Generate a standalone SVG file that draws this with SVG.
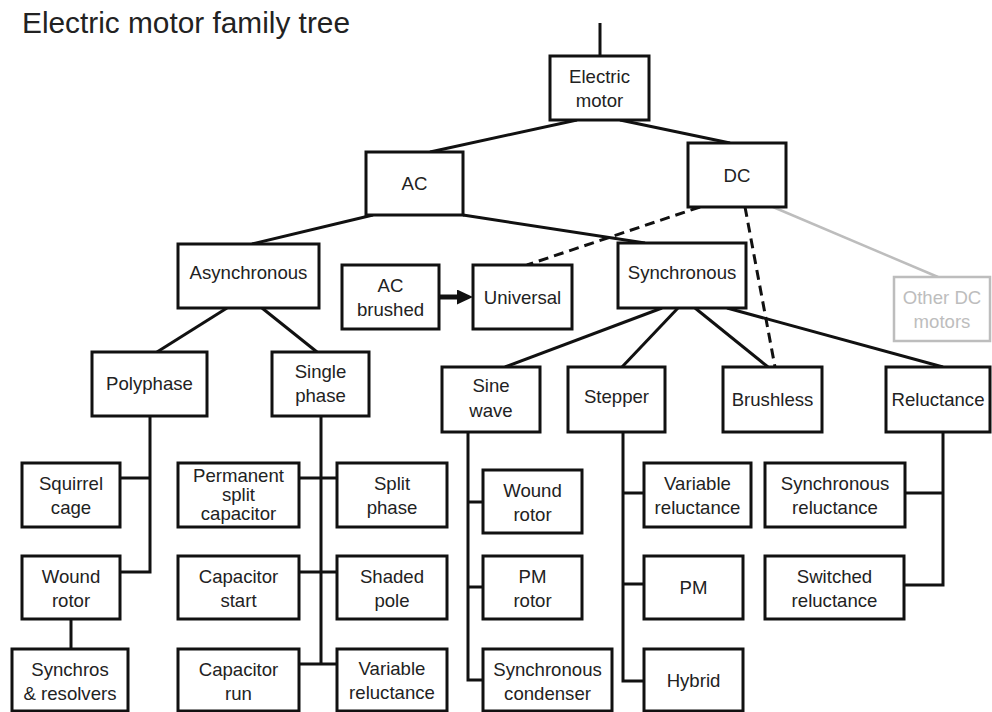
<svg xmlns="http://www.w3.org/2000/svg" width="992" height="712" viewBox="0 0 992 712">
<defs>
<style>
.box{fill:#fff;stroke:#111;stroke-width:3}
.gbox{fill:#fff;stroke:#bdbdbd;stroke-width:2.5}
text{font-family:"Liberation Sans",Arial,Helvetica,sans-serif;font-size:18.6px;fill:#222;text-anchor:middle}
.gtext{fill:#bdbdbd}
.title{font-size:29px;text-anchor:start;fill:#222}
.ln{fill:none;stroke:#111;stroke-width:3;stroke-linejoin:miter;stroke-linecap:butt}
.dash{fill:none;stroke:#111;stroke-width:3;stroke-dasharray:10 6}
.gray{fill:none;stroke:#bdbdbd;stroke-width:2.5}
.arrow{fill:none;stroke:#111;stroke-width:5}
</style>
<marker id="ah" markerUnits="userSpaceOnUse" markerWidth="16" markerHeight="15" refX="3" refY="7.5" orient="auto">
<path d="M0,0 L16,7.5 L0,15 z" fill="#111"/>
</marker>
</defs>
<rect width="992" height="712" fill="#fff"/>
<text class="title" x="22" y="33" textLength="328" lengthAdjust="spacingAndGlyphs">Electric motor family tree</text>

<g id="connectors">
<path class="ln" d="M600,23 V56"/>
<path class="ln" d="M577,120 L430,152"/>
<path class="ln" d="M620,120 L730,143"/>
<path class="ln" d="M373,215 L252,244"/>
<path class="ln" d="M463,215 L645,243"/>
<path class="dash" d="M700,207 L527,265"/>
<path class="dash" d="M745,207 L775,367"/>
<path class="gray" d="M773,207 L938,277"/>
<path class="arrow" d="M439,297 H460" marker-end="url(#ah)"/>
<path class="ln" d="M227,308 L157,352"/>
<path class="ln" d="M262,308 L317,352"/>
<path class="ln" d="M662,308 L505,367"/>
<path class="ln" d="M678,308 L622,367"/>
<path class="ln" d="M695,308 L768,367"/>
<path class="ln" d="M727,308 L943,367"/>
<path class="ln" d="M150,416 V572 H120 M120,478 H150"/>
<path class="ln" d="M71,619 V649"/>
<path class="ln" d="M321,416 V664 M299,478 H337 M299,572 H337 M299,664 H337"/>
<path class="ln" d="M468,432 V680 H483 M468,502 H483 M468,587 H483"/>
<path class="ln" d="M623,432 V681 H644 M623,493 H644 M623,584 H644"/>
<path class="ln" d="M943,432 V585 H904 M905,493 H943"/>
</g>

<g id="electric-motor"><rect class="box" x="550" y="56" width="99" height="64"/><text x="599.5" y="83">Electric</text><text x="599.5" y="107">motor</text></g>
<g id="ac"><rect class="box" x="366" y="152" width="97" height="63"/><text x="414.5" y="190">AC</text></g>
<g id="dc"><rect class="box" x="688" y="143" width="98" height="64"/><text x="737" y="182">DC</text></g>
<g id="asynchronous"><rect class="box" x="178" y="244" width="141" height="64"/><text x="248.5" y="279">Asynchronous</text></g>
<g id="ac-brushed"><rect class="box" x="342" y="265" width="97" height="64"/><text x="390.5" y="292">AC</text><text x="390.5" y="316">brushed</text></g>
<g id="universal"><rect class="box" x="473" y="265" width="99" height="64"/><text x="522.5" y="304">Universal</text></g>
<g id="synchronous"><rect class="box" x="618" y="243" width="128" height="65"/><text x="682" y="279">Synchronous</text></g>
<g id="other-dc"><rect class="gbox" x="894" y="277" width="96" height="64"/><text class="gtext" x="942" y="304">Other DC</text><text class="gtext" x="942" y="328">motors</text></g>
<g id="polyphase"><rect class="box" x="92" y="352" width="115" height="64"/><text x="149.5" y="390">Polyphase</text></g>
<g id="single-phase"><rect class="box" x="272" y="352" width="97" height="64"/><text x="320.5" y="378">Single</text><text x="320.5" y="402">phase</text></g>
<g id="sine-wave"><rect class="box" x="442" y="367" width="98" height="65"/><text x="491" y="392">Sine</text><text x="491" y="417">wave</text></g>
<g id="stepper"><rect class="box" x="568" y="367" width="97" height="65"/><text x="616.5" y="403">Stepper</text></g>
<g id="brushless"><rect class="box" x="723" y="367" width="99" height="65"/><text x="772.5" y="406">Brushless</text></g>
<g id="reluctance"><rect class="box" x="886" y="367" width="104" height="65"/><text x="938" y="406">Reluctance</text></g>
<g id="squirrel-cage"><rect class="box" x="22" y="463" width="98" height="64"/><text x="71" y="490">Squirrel</text><text x="71" y="514">cage</text></g>
<g id="wound-rotor-a"><rect class="box" x="22" y="556" width="98" height="63"/><text x="71" y="583">Wound</text><text x="71" y="607">rotor</text></g>
<g id="synchros"><rect class="box" x="12" y="649" width="116" height="62"/><text x="70" y="676">Synchros</text><text x="70" y="700">&amp; resolvers</text></g>
<g id="psc"><rect class="box" x="178" y="463" width="121" height="64"/><text x="238.5" y="482">Permanent</text><text x="238.5" y="501">split</text><text x="238.5" y="520">capacitor</text></g>
<g id="split-phase"><rect class="box" x="337" y="463" width="110" height="64"/><text x="392" y="490">Split</text><text x="392" y="514">phase</text></g>
<g id="capacitor-start"><rect class="box" x="178" y="556" width="121" height="63"/><text x="238.5" y="583">Capacitor</text><text x="238.5" y="607">start</text></g>
<g id="shaded-pole"><rect class="box" x="337" y="556" width="110" height="63"/><text x="392" y="583">Shaded</text><text x="392" y="607">pole</text></g>
<g id="capacitor-run"><rect class="box" x="178" y="649" width="121" height="62"/><text x="238.5" y="676">Capacitor</text><text x="238.5" y="700">run</text></g>
<g id="variable-reluctance-a"><rect class="box" x="337" y="649" width="110" height="62"/><text x="392" y="675">Variable</text><text x="392" y="699">reluctance</text></g>
<g id="wound-rotor-s"><rect class="box" x="483" y="470" width="99" height="63"/><text x="532.5" y="497">Wound</text><text x="532.5" y="521">rotor</text></g>
<g id="pm-rotor"><rect class="box" x="483" y="556" width="99" height="63"/><text x="532.5" y="583">PM</text><text x="532.5" y="607">rotor</text></g>
<g id="synchronous-condenser"><rect class="box" x="483" y="649" width="129" height="62"/><text x="547.5" y="676">Synchronous</text><text x="547.5" y="700">condenser</text></g>
<g id="variable-reluctance-s"><rect class="box" x="644" y="463" width="107" height="64"/><text x="697.5" y="490">Variable</text><text x="697.5" y="514">reluctance</text></g>
<g id="pm"><rect class="box" x="644" y="556" width="99" height="63"/><text x="693.5" y="594">PM</text></g>
<g id="hybrid"><rect class="box" x="644" y="649" width="99" height="62"/><text x="693.5" y="687">Hybrid</text></g>
<g id="synchronous-reluctance"><rect class="box" x="765" y="463" width="140" height="64"/><text x="835" y="490">Synchronous</text><text x="835" y="514">reluctance</text></g>
<g id="switched-reluctance"><rect class="box" x="765" y="556" width="139" height="63"/><text x="834.5" y="583">Switched</text><text x="834.5" y="607">reluctance</text></g>
</svg>
